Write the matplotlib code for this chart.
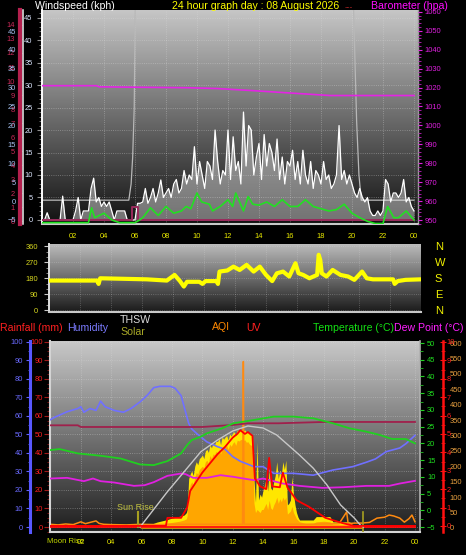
import numpy as np
import matplotlib
matplotlib.use('Agg')
import matplotlib.pyplot as plt
from matplotlib.colors import LinearSegmentedColormap
from matplotlib.ticker import MultipleLocator
import matplotlib.transforms as mtransforms

plt.rcParams['font.family'] = ['Liberation Sans', 'DejaVu Sans']

# ---------------- data ----------------
hour_ticks = [2, 4, 6, 8, 10, 12, 14, 16, 18, 20, 22, 24]
hour_labels = ['02', '04', '06', '08', '10', '12', '14', '16', '18', '20', '22', '00']

# wind gust (kph), 10-minute samples
gust_t = np.arange(0, 24.01, 1 / 6)
gust_v = [0, 0, 1.6, 0, 0, 0,
          0, 0, 5.3, 0, 0, 0,
          0, 2, 5, 0, 2, 2,
          2, 7, 9.3, 4, 5, 3,
          4, 3, 4, 2, 0, 2,
          2, 2, 2, 0, 0, 0,
          0, 3.7, 3.7, 4, 7, 3.7,
          5, 7, 4, 6, 8.9, 5,
          6, 7, 5, 8, 9, 6,
          7, 11, 8, 10, 9, 16.3,
          8, 13, 10, 7, 13, 12,
          9, 20, 13, 8, 11, 10,
          20, 9, 18.5, 11, 13, 8,
          24, 12, 21, 20, 10, 14,
          17, 9, 19, 12, 17, 15,
          11, 18, 9, 14, 8, 13,
          12, 15.5, 9, 13, 8, 15.5,
          10, 8, 13, 7, 11, 10,
          8, 13, 9, 10, 7, 8,
          10, 21, 9, 11, 8, 10,
          8, 6, 5, 7, 5, 4,
          5, 2, 1, 1, 2, 1,
          2, 9, 8, 4, 6, 6,
          5, 6, 9, 4, 5, 3,
          2]

# average wind (kph)
avg_t = [0, 3.0, 3.2, 3.4, 3.7, 4.0, 4.5, 5.0, 6.0, 6.3, 6.5, 7.0, 7.5, 8.0, 8.5, 9.0, 9.3, 9.6,
         10.0, 10.3, 10.8, 11.0, 11.5, 12.0, 12.3, 12.5, 13.0, 13.3, 13.6, 14.0, 14.5, 15.0, 15.5,
         16.0, 16.5, 17.0, 17.5, 18.0, 18.5, 19.0, 19.5, 20.0, 20.5, 21.0, 21.5, 22.0, 22.3, 22.7,
         23.0, 23.5, 24.0]
avg_v = [-0.6, -0.6, 2.7, 0.5, 1.0, 1.5, 0, -0.6, -0.6, 0, 0.5, 2.7, 1.0, 3.0, 1.5, 2.0, 3.0, 2.5,
         6.0, 4.0, 3.5, 2.0, 3.0, 4.5, 3.0, 6.0, 2.0, 5.2, 3.5, 3.3, 4.0, 3.0, 4.5,
         3.0, 3.0, 4.5, 3.0, 2.5, 2.0, 2.3, 3.5, 1.5, 0.5, -0.3, -0.8, -0.8, 3.0, 0.5,
         0.5, 2.0, 0.0]

# maroon trace near zero (top panel)
mar1_t = [0, 5.8, 5.8, 6.2, 6.2, 24]
mar1_v = [0, 0, 2.8, 2.8, 0, 0]

# sun trace (top panel, kph scale)
sun1_t = [0, 5.6, 5.75, 5.85, 5.95, 6.05, 20.0, 20.3, 20.45, 20.6, 24]
sun1_v = [4.4, 4.4, 8, 14, 25, 60, 60, 22, 10, 4.4, 4.4]

# barometer (hpa)
baro_t = [0, 3.5, 3.7, 9.5, 11.3, 12.3, 13.6, 15.5, 18.6, 24.0]
baro_v = [1021.0, 1021.0, 1020.4, 1019.9, 1019.5, 1019.0, 1018.4, 1017.4, 1015.8, 1015.8]

# extra left scales (top panel)
red_scale_ticks = list(range(0, 15))
blue_scale_ticks = [-5, 0, 5, 10, 15, 20, 25, 30, 35, 40, 45]

# wind direction (deg)
dir_t = [0, 3.1, 3.2, 3.3, 6.3, 7.6, 8.1, 8.45, 8.7, 8.9, 9.7, 9.9, 10.1, 10.8, 10.9, 11.0, 11.5,
         11.9, 12.3, 12.75, 13.2, 13.6, 14.0, 14.4, 14.7, 15.1, 15.5, 15.9, 16.1, 16.4, 16.8, 17.3,
         17.4, 17.5, 17.6, 17.9, 18.3, 18.8, 19.3, 19.7, 20.2, 20.5, 20.9, 22.2, 22.3, 22.5, 23.0, 24.0]
dir_v = [167, 167, 148, 180, 174, 167, 199, 164, 133, 160, 160, 148, 164, 164, 148, 218, 224,
         246, 227, 256, 218, 246, 199, 164, 208, 218, 190, 265, 208, 199, 180, 199,
         313, 284, 208, 190, 227, 199, 190, 171, 218, 180, 174, 174, 148, 164, 171, 174]
dir_ticks = [0, 90, 180, 270, 360]
dir_labels = ['N', 'E', 'S', 'W', 'N']

# humidity (%)
hum_t = [0, 0.2, 1.1, 1.8, 2.0, 2.2, 2.6, 3.0, 3.3, 3.6, 4.2, 4.8, 5.3, 5.9, 6.4, 6.8, 7.2, 7.9, 8.2,
         8.6, 8.9, 9.1, 9.3, 9.7, 10.3, 11.0, 11.5, 12.0, 12.5, 13.4, 14.0, 14.7, 16.0, 17.3, 18.6,
         19.9, 20.8, 21.4, 22.1, 23.0, 23.4, 24.0]
hum_v = [58, 59, 62.3, 64, 65, 62, 64, 63, 68, 65, 63, 62, 64, 67.6, 71.4, 75.3, 76, 76, 75,
         71, 62, 56, 53, 50, 46, 43.4, 42, 38, 35.5, 32.6, 32.6, 29, 29, 28, 30.8,
         32.6, 35, 36.8, 40.7, 42.7, 45, 49.5]

# temperature (C)
temp_t = [0, 0.6, 1.8, 3.3, 4.6, 5.9, 6.8, 7.7, 8.6, 9.0, 9.3, 9.9, 10.3, 11.3, 12.05, 13.4, 14.7,
          16.0, 17.3, 18.6, 19.7, 20.8, 21.7, 22.5, 23.4, 24.0]
temp_v = [18, 18.3, 17, 16.3, 15.5, 13.7, 13.5, 14.7, 17, 19.5, 21, 22, 23, 24.5, 26, 27, 28,
          28, 27.5, 26, 24.5, 23.5, 22.5, 21.3, 21.3, 20]

# dew point (C)
dew_t = [0, 1.1, 2.2, 2.8, 3.3, 4.2, 5.5, 6.2, 6.8, 7.7, 8.6, 8.9, 9.4, 10.3, 11.2, 12.05, 12.7,
         13.4, 14.0, 15.3, 16.4, 17.9, 19.3, 20.8, 22.3, 23.0, 24.0]
dew_v = [9.5, 9.7, 8.7, 9.5, 8.7, 8.3, 7.3, 7.5, 8.4, 10.3, 11.0, 10.8, 9.7, 9.7, 10.5, 10.0, 9.5,
         9.0, 9.5, 8.0, 7.3, 6.7, 6.9, 7.3, 7.3, 8.0, 8.8]

# maroon trace (bottom panel, C scale)
mar3_t = [0, 1.8, 2.0, 6.0, 10.0, 12.0, 13.0, 15.0, 18.0, 24.0]
mar3_v = [25.4, 25.4, 24.9, 24.9, 24.9, 25.5, 26.0, 26.0, 26.4, 26.4]

# THSW / sun arc (C scale)
arc_t = [5.9, 7.7, 9.0, 9.9, 11.0, 12.0, 13.0, 14.0, 14.9, 16.4, 17.3, 18.2, 19.1, 20.0, 20.4, 20.6]
arc_v = [-5.0, 5.55, 12.6, 17.5, 21.0, 23.7, 25.2, 24.6, 22.5, 16.5, 12.6, 7.6, 1.6, -2.3, -4.4, -5.0]

# solar (drawn on the orange 0-600 scale)
solar_t = [5.9, 6.5, 7.0, 7.5, 8.0, 8.5, 8.8, 8.95,
           9.0, 9.1, 9.2, 9.3, 9.4, 9.5, 9.6, 9.7, 9.8, 9.9,
           10.0, 10.1, 10.2, 10.3, 10.4, 10.5, 10.6, 10.7, 10.8, 10.9,
           11.0, 11.1, 11.2, 11.3, 11.4, 11.5, 11.6, 11.7, 11.8, 11.9,
           12.0, 12.1, 12.2, 12.3, 12.4, 12.5, 12.6, 12.7, 12.8, 12.9,
           13.0, 13.1, 13.2, 13.3, 13.4, 13.5, 13.6, 13.7, 13.8, 13.9,
           14.0, 14.1, 14.2, 14.3, 14.4, 14.5, 14.6, 14.7, 14.8, 14.9,
           15.0, 15.1, 15.2, 15.3, 15.4, 15.5, 15.6, 15.7, 15.8, 15.9,
           16.0, 16.1, 16.2, 16.3, 16.4,
           16.8, 17.3, 17.5, 18.0, 18.4, 18.6, 19.2, 19.7, 19.9, 20.5, 20.6]
solar_hi = [3, 10, 19, 25, 32, 38, 42, 50,
            60, 160, 175, 185, 170, 200, 215, 205, 225, 230,
            237, 225, 250, 255, 245, 269, 260, 275, 270, 282,
            280, 290, 270, 295, 288, 295, 300, 285, 305, 298,
            308, 312, 300, 318, 315, 318, 320, 316, 318, 310,
            311, 305, 300, 302, 156, 84, 280, 91, 110, 100,
            123, 140, 162, 120, 188, 130, 123, 150, 170, 215,
            160, 188, 170, 215, 190, 220, 75, 80, 91, 166,
            110, 75, 50, 35, 26,
            26, 26, 37, 37, 37, 20, 20, 20, 10, 10, 0]
solar_lo = [0, 5, 10, 14, 18, 22, 26, 30,
            40, 120, 140, 150, 140, 165, 180, 175, 190, 195,
            200, 195, 215, 220, 210, 235, 225, 240, 238, 248,
            245, 255, 240, 262, 255, 262, 268, 255, 272, 265,
            275, 280, 268, 285, 282, 286, 288, 284, 286, 278,
            280, 272, 268, 270, 80, 50, 60, 55, 50, 60,
            60, 70, 80, 60, 90, 65, 60, 75, 85, 100,
            80, 95, 85, 100, 90, 100, 45, 50, 55, 70,
            50, 40, 30, 25, 20,
            15, 15, 20, 22, 20, 12, 12, 12, 6, 6, 0]

# UV index
uv_t = [0, 7.6, 7.7, 8.6, 9.0, 9.2, 9.6, 10.0, 10.5, 11.0, 11.5, 12.0, 12.3, 12.5, 12.8, 13.0, 13.3,
        13.45, 13.8, 14.2, 14.4, 14.6, 15.1, 15.3, 15.6, 16.2, 17.0, 18.1, 19.2, 20.0, 24.0]
uv_v = [0, 0, 0.44, 0.44, 1.0, 1.9, 2.4, 2.9, 3.4, 3.9, 4.3, 4.8, 5.0, 5.2, 5.0, 5.1, 4.9,
        2.6, 2.15, 2.0, 3.7, 2.15, 2.1, 2.9, 2.1, 1.4, 1.05, 0.44, 0.16, 0.0, 0.0]

# AQI
aqi_t = [0, 0.5, 1.0, 1.5, 2.0, 2.3, 2.6, 3.0, 3.2, 3.5, 4.0, 5.0, 6.0, 7.0, 8.0, 9.0, 10.0, 11.0,
         12.0, 12.65, 12.7, 12.75, 13.5, 15, 17, 19.0, 19.5, 19.6, 20.0, 20.5, 21.0, 21.5, 22.0,
         22.3, 22.6, 23.0, 23.3, 23.6, 23.8, 24.0]
aqi_v = [12, 10, 13, 11, 20, 14, 18, 23, 15, 12, 11, 10, 12, 11, 12, 12, 12, 12,
         12, 12, 540, 12, 12, 12, 12, 14, 52, 14, 16, 16, 18, 32, 35,
         42, 39, 32, 19, 30, 42, 20]

# rainfall (mm)
rain_t = [0, 24]
rain_v = [0, 0]

sunrise_h = 5.75
sunset_h = 20.58
moonrise_h = -0.23

# ---------------- figure ----------------
W, H = 466, 555
PX = 0.72  # points per pixel at 100 dpi
FS = 5.4
fig = plt.figure(figsize=(W / 100, H / 100), dpi=100, facecolor='black')


def rect(l, t, r, b):
    return [l / W, 1 - b / H, (r - l) / W, (b - t) / H]


def gradient(ax, top, bottom):
    g = np.linspace(0, 1, 256).reshape(-1, 1)
    cmap = LinearSegmentedColormap.from_list('g', [top, bottom])
    ax.imshow(g, extent=[0, 1, 0, 1], transform=ax.transAxes, cmap=cmap, aspect='auto',
              origin='upper', zorder=0, interpolation='bilinear')


def only_spines(ax, keep):
    for k, s in ax.spines.items():
        s.set_visible(k in keep)


# ======== TOP PANEL ========
ax1 = fig.add_axes(rect(42, 10, 418, 224))
gradient(ax1, '#c6c6c6', '#121212')
ax1.set_axisbelow(True)
ax1.plot(sun1_t, sun1_v, color='#b8b8b8', lw=0.9, zorder=2)
ax1.fill_between(gust_t, 0, gust_v, color='#e8e8e8', alpha=0.45, lw=0, zorder=2)
ax1.plot(gust_t, gust_v, color='white', lw=0.9, zorder=3)
ax1.plot(mar1_t, mar1_v, color='#9a2a5c', lw=1.4, zorder=3)
ax1.plot(avg_t, avg_v, color='#22e022', lw=1.2, zorder=4)
ax1.set_xlim(0, 24.26)
ax1.set_ylim(-0.9, 46.7)
ax1.set_xticks(hour_ticks)
ax1.set_xticklabels(hour_labels)
ax1.yaxis.set_major_locator(MultipleLocator(5))
ax1.yaxis.set_minor_locator(MultipleLocator(1))
ax1.grid(True, which='major', color='#dddddd', ls=':', lw=0.6, alpha=0.45)
ax1.tick_params(axis='x', length=0, pad=6.3, labelsize=FS, labelcolor='#e8e800')
ax1.tick_params(axis='y', which='major', length=3.6, color='#909090', pad=3.2,
                labelsize=FS, labelcolor='#dce6ff')
ax1.tick_params(axis='y', which='minor', length=2.0, color='#808080')
only_spines(ax1, ['left', 'bottom', 'right'])
ax1.spines['left'].set_color('white')
ax1.spines['left'].set_linewidth(1.4)
ax1.spines['bottom'].set_color('#c8c8c8')
ax1.spines['bottom'].set_linewidth(1.5)
ax1.spines['right'].set_color('#9a9a9a')
ax1.spines['right'].set_linewidth(1.0)

ax1b = ax1.twinx()
ax1b.plot(baro_t, baro_v, color='#e424e4', lw=1.2, zorder=3)
ax1b.set_ylim(947.9, 1061)
ax1b.yaxis.set_major_locator(MultipleLocator(10))
ax1b.yaxis.set_minor_locator(MultipleLocator(2))
ax1b.tick_params(axis='y', which='major', length=3.2, color='#e020e0', pad=1.6,
                 labelsize=FS, labelcolor='#e020e0')
ax1b.tick_params(axis='y', which='minor', length=1.8, color='#c020c0')
only_spines(ax1b, [])

ax1r = ax1.twinx()
ax1r.set_ylim(-0.21, 15.07)
ax1r.yaxis.set_ticks_position('left')
ax1r.set_yticks(red_scale_ticks)
only_spines(ax1r, ['left'])
ax1r.spines['left'].set_position(('outward', 22 * PX))
ax1r.spines['left'].set_color('#b4204e')
ax1r.spines['left'].set_linewidth(3.0)
ax1r.tick_params(axis='y', length=3.0, width=0.8, color='#d03060', pad=2.0,
                 labelsize=FS, labelcolor='#cc2a5a', direction='inout')

ax1u = ax1.twinx()
ax1u.set_ylim(-6.06, 50.56)
ax1u.yaxis.set_ticks_position('left')
ax1u.set_yticks(blue_scale_ticks)
only_spines(ax1u, ['left'])
ax1u.spines['left'].set_position(('outward', 19 * PX))
ax1u.spines['left'].set_color('#f0f0f0')
ax1u.spines['left'].set_linewidth(1.1)
ax1u.tick_params(axis='y', length=0, pad=5.2, labelsize=FS, labelcolor='#a8c4f4')

# ======== MIDDLE PANEL ========
ax2 = fig.add_axes(rect(49, 244, 421, 312))
gradient(ax2, '#bcbcbc', '#1a1a1a')
ax2.set_axisbelow(True)
ax2.plot(dir_t, dir_v, color='#ffff00', lw=3.0, solid_capstyle='butt', zorder=3)
ax2.set_xlim(0, 24)
ax2.set_ylim(-11, 374)
ax2.set_yticks(dir_ticks)
ax2.yaxis.set_minor_locator(MultipleLocator(30))
ax2.set_xticks(hour_ticks)
ax2.grid(True, which='major', color='#dddddd', ls=':', lw=0.6, alpha=0.35)
ax2.tick_params(axis='x', length=0, labelbottom=False)
ax2.tick_params(axis='y', which='major', length=3.6, color='#c8c8c8', pad=4.3,
                labelsize=FS, labelcolor='#d8d820')
ax2.tick_params(axis='y', which='minor', length=2.2, color='#a0a0a0')
only_spines(ax2, ['left', 'bottom'])
ax2.spines['left'].set_color('#e0e0e0')
ax2.spines['left'].set_linewidth(1.4)
ax2.spines['bottom'].set_color('#c8c8c8')
ax2.spines['bottom'].set_linewidth(1.5)

ax2r = ax2.twinx()
ax2r.set_ylim(-11, 374)
ax2r.set_yticks(dir_ticks)
ax2r.set_yticklabels(dir_labels)
ax2r.tick_params(axis='y', length=0, pad=10, labelsize=8, labelcolor='#f0f000')
only_spines(ax2r, [])

# ======== BOTTOM PANEL ========
R3 = rect(50, 341, 420, 532)
XL3 = (-0.03, 24.33)
bg3 = fig.add_axes(R3, zorder=0)
gradient(bg3, '#c8c8c8', '#1e1e1e')
bg3.set_xlim(*XL3)
bg3.set_ylim(-2.7, 100.5)
bg3.set_xticks(hour_ticks)
bg3.yaxis.set_major_locator(MultipleLocator(10))
bg3.set_axisbelow(True)
bg3.grid(True, color='#dddddd', ls=':', lw=0.6, alpha=0.45)
bg3.tick_params(length=0, labelbottom=False, labelleft=False)
only_spines(bg3, [])

ax3 = fig.add_axes(R3, zorder=2)
ax3.patch.set_visible(False)

# solar / AQI axis (drawn below main)
ax3a = ax3.twinx()
ax3a.set_zorder(1)
ax3a.fill_between(solar_t, 0, solar_hi, color='#ffe600', lw=0, zorder=1)
ax3a.fill_between(solar_t, 0, solar_lo, color='#ffa600', lw=0, zorder=2)
ax3a.plot(aqi_t, aqi_v, color='#ff8a10', lw=1.1, zorder=3)
ax3a.set_ylim(-13, 606.5)
ax3a.yaxis.set_major_locator(MultipleLocator(50))
only_spines(ax3a, [])
ax3a.spines['right'].set_position(('outward', 23 * PX))
ax3a.tick_params(axis='y', length=0, pad=4.6, labelsize=FS, labelcolor='#e8a040')

# main: rainfall
ax3.plot(rain_t, rain_v, color='#ff1010', lw=1.3, zorder=3)
ax3.plot([sunrise_h, sunrise_h], [0, 8], color='#a8a020', lw=1.5, zorder=3)
ax3.plot([sunset_h, sunset_h], [-2.7, 8], color='#a8a020', lw=1.2, zorder=3)
ax3.text(sunrise_h - 0.15, 10.3, 'Sun Rise', color='#c0c040', fontsize=6.5,
         ha='center', va='center', zorder=4)
trans = mtransforms.blended_transform_factory(ax3.transData, ax3.transAxes)
ax3.text(moonrise_h, -0.052, 'Moon Rise', color='#c4d800', fontsize=FS + 0.2,
         ha='left', va='center', transform=trans, clip_on=False)
ax3.set_xlim(*XL3)
ax3.set_ylim(-2.7, 100.5)
ax3.set_xticks(hour_ticks)
ax3.set_xticklabels(hour_labels)
ax3.yaxis.set_major_locator(MultipleLocator(10))
ax3.yaxis.set_minor_locator(MultipleLocator(2.5))
ax3.tick_params(axis='x', length=0, pad=4.8, labelsize=FS, labelcolor='#e8e800')
ax3.tick_params(axis='y', which='major', length=4.0, color='#a01818', pad=1.0,
                labelsize=FS, labelcolor='#ff2020')
ax3.tick_params(axis='y', which='minor', length=2.5, color='#901414')
only_spines(ax3, ['left', 'bottom', 'right'])
for k in ['left', 'bottom']:
    ax3.spines[k].set_color('#d4d4d4')
    ax3.spines[k].set_linewidth(1.5)
ax3.spines['right'].set_color('#b0b0b0')
ax3.spines['right'].set_linewidth(1.2)

# humidity axis
ax3h = ax3.twinx()
ax3h.set_zorder(3)
ax3h.plot(hum_t, hum_v, color='#7070ff', lw=1.2, zorder=3)
ax3h.set_ylim(-2.7, 100.5)
ax3h.yaxis.set_ticks_position('left')
ax3h.yaxis.set_major_locator(MultipleLocator(10))
ax3h.yaxis.set_minor_locator(MultipleLocator(5))
only_spines(ax3h, ['left'])
ax3h.spines['left'].set_position(('outward', 20 * PX))
ax3h.spines['left'].set_color('#5858ff')
ax3h.spines['left'].set_linewidth(2.2)
ax3h.tick_params(axis='y', which='major', length=3.0, color='#6060ff', pad=2.0,
                 labelsize=FS, labelcolor='#6a6aff')
ax3h.tick_params(axis='y', which='minor', length=1.8, color='#6060ff')

# temperature axis
ax3t = ax3.twinx()
ax3t.set_zorder(3)
ax3t.plot(mar3_t, mar3_v, color='#a0204c', lw=1.3, zorder=2)
ax3t.plot(dew_t, dew_v, color='#e020e0', lw=1.3, zorder=3)
ax3t.plot(temp_t, temp_v, color='#20d020', lw=1.3, zorder=3)
ax3t.plot(arc_t, arc_v, color='#c8c8c8', lw=1.0, zorder=4)
ax3t.set_ylim(-6.49, 50.6)
ax3t.yaxis.set_major_locator(MultipleLocator(5))
ax3t.yaxis.set_minor_locator(MultipleLocator(2.5))
only_spines(ax3t, [])
ax3t.tick_params(axis='y', which='major', length=3.0, color='#20d020', pad=2.0,
                 labelsize=FS, labelcolor='#20e020')
ax3t.tick_params(axis='y', which='minor', length=1.8, color='#20c020')

# UV axis
ax3u = ax3.twinx()
ax3u.set_zorder(3)
ax3u.plot(uv_t, uv_v, color='#ff0000', lw=1.3, zorder=5)
ax3u.set_ylim(-0.33, 10.05)
ax3u.yaxis.set_major_locator(MultipleLocator(1))
ax3u.yaxis.set_minor_locator(MultipleLocator(0.5))
only_spines(ax3u, ['right'])
ax3u.spines['right'].set_position(('outward', 23 * PX))
ax3u.spines['right'].set_color('#ff1010')
ax3u.spines['right'].set_linewidth(1.8)
ax3u.tick_params(axis='y', which='major', length=4.0, color='#ff1010', pad=0.8,
                 direction='inout', labelsize=FS, labelcolor='#ff2020')
ax3u.tick_params(axis='y', which='minor', length=2.6, color='#ff1010', direction='inout')

# ======== TITLES / LEGEND TEXT ========
TS = 7.6


def ftext(x, y, s, color, size=TS):
    fig.text(x / W, 1 - y / H, s, color=color, fontsize=size, ha='left', va='baseline')


ftext(35, 9, 'Windspeed (kph)', 'white')
ftext(172, 9, '24 hour graph day : 08 August 2026', '#ffff00')
ftext(345, 9, '---', '#c02828', 6)
ftext(371, 9, 'Barometer (hpa)', '#ff10ff')

ftext(0, 331, 'Rainfall (mm)', '#ff2020')
ftext(67, 331, 'Humidity', '#7b7bff')
ftext(120, 323, 'THSW', '#dcdcdc')
ftext(120, 335, 'Solar', '#a8a828')
ftext(212, 330, 'AQI', '#ff8800')
ftext(246, 331, 'UV', '#ff2020')
ftext(313, 331, 'Temperature (°C)', '#14e014')
ftext(394, 331, 'Dew Point (°C)', '#ff20ff')

fig.savefig('out.png', dpi=100, facecolor='black')
